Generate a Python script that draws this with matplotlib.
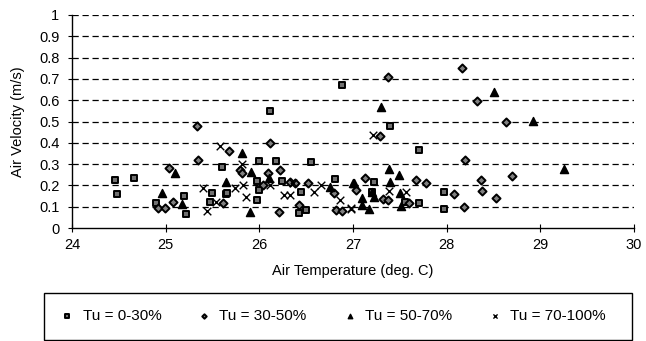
import matplotlib
matplotlib.use("Agg")
import matplotlib.pyplot as plt
from matplotlib.patches import Rectangle

plt.rcParams['font.family'] = ['Liberation Sans', 'DejaVu Sans']

# Tu = 0-30% (squares)
sq_x = [24.46, 24.48, 24.66, 24.90, 25.20, 25.22, 25.47, 25.49, 25.60, 25.64, 25.66,
        26.00, 26.18, 26.11, 25.97, 26.00, 25.97, 26.24, 26.55, 26.45, 26.42, 26.50,
        26.81, 26.88, 27.40, 27.70, 27.22, 27.97, 27.97, 27.70, 27.55, 27.20]
sq_y = [0.226, 0.16, 0.235, 0.118, 0.15, 0.066, 0.12, 0.166, 0.285, 0.16, 0.166,
        0.315, 0.315, 0.55, 0.22, 0.18, 0.13, 0.22, 0.31, 0.17, 0.07, 0.085,
        0.23, 0.67, 0.48, 0.367, 0.217, 0.17, 0.088, 0.117, 0.12, 0.17]

# Tu = 30-50% (diamonds)
di_x = [25.33, 25.35, 25.04, 25.68, 26.11, 26.21, 26.22, 26.52, 26.42, 26.80, 26.82,
        24.92, 24.99, 25.08, 25.79, 25.82, 25.61, 26.04, 26.09, 26.33, 26.38,
        27.37, 28.16, 28.32, 28.63, 28.20, 28.70, 28.37, 28.38, 28.53, 28.18, 28.08,
        27.78, 27.67, 27.29, 27.13, 27.03, 27.32, 27.37, 27.60, 26.88]
di_y = [0.48, 0.32, 0.28, 0.36, 0.40, 0.077, 0.27, 0.21, 0.108, 0.165, 0.085,
        0.094, 0.094, 0.12, 0.27, 0.26, 0.117, 0.20, 0.26, 0.217, 0.21,
        0.71, 0.75, 0.594, 0.50, 0.32, 0.245, 0.226, 0.174, 0.14, 0.097, 0.16,
        0.21, 0.226, 0.43, 0.235, 0.18, 0.137, 0.13, 0.117, 0.08]

# Tu = 50-70% (triangles)
tr_x = [25.10, 24.96, 25.17, 25.81, 25.90, 25.91, 25.64, 26.10, 26.75, 27.00,
        27.30, 28.51, 28.92, 29.25, 27.38, 27.49, 27.39, 27.01, 27.10, 27.20,
        27.50, 27.51, 27.10, 27.17, 27.22]
tr_y = [0.26, 0.166, 0.113, 0.35, 0.077, 0.265, 0.218, 0.237, 0.194, 0.213,
        0.566, 0.637, 0.503, 0.278, 0.276, 0.25, 0.218, 0.213, 0.143, 0.168,
        0.166, 0.105, 0.108, 0.088, 0.147]

# Tu = 70-100% (crosses)
cr_x = [25.58, 25.82, 25.40, 25.44, 25.54, 25.83, 25.74, 25.86, 26.11, 26.26,
        26.33, 26.58, 26.66, 26.98, 26.36, 27.21, 27.38, 27.57, 26.98, 26.86]
cr_y = [0.383, 0.30, 0.187, 0.08, 0.124, 0.20, 0.187, 0.147, 0.20, 0.155,
        0.155, 0.17, 0.20, 0.088, 0.21, 0.437, 0.174, 0.171, 0.093, 0.13]

labels = ["Tu = 0-30%", "Tu = 30-50%", "Tu = 50-70%", "Tu = 70-100%"]
x_ticks = [24, 25, 26, 27, 28, 29, 30]
y_ticks = [0, 0.1, 0.2, 0.3, 0.4, 0.5, 0.6, 0.7, 0.8, 0.9, 1]
y_tick_labels = ["0", "0.1", "0.2", "0.3", "0.4", "0.5", "0.6", "0.7", "0.8", "0.9", "1"]

fs = 10.5
fig = plt.figure(figsize=(6.46, 3.41), dpi=100)
ax = fig.add_axes([72/646, 1-228/341, (634-72)/646, (228-15)/341])

for y in y_ticks[1:]:
    ax.axhline(y, color='black', lw=0.9, ls=(0, (5, 3)), zorder=0)

ax.scatter(sq_x, sq_y, marker='s', s=24, facecolor='#707070', edgecolor='black', linewidths=1.4, label=labels[0], zorder=3)
ax.scatter(di_x, di_y, marker='D', s=17, facecolor='#808080', edgecolor='black', linewidths=1.4, label=labels[1], zorder=3)
ax.scatter(tr_x, tr_y, marker='^', s=34, color='black', label=labels[2], zorder=3)
ax.scatter(cr_x, cr_y, marker='x', s=30, color='black', linewidths=1.0, label=labels[3], zorder=3)

ax.set_xlim(24, 30)
ax.set_ylim(0, 1)
ax.set_xticks(x_ticks)
ax.set_yticks(y_ticks)
ax.set_yticklabels(y_tick_labels)
ax.spines['top'].set_visible(False)
ax.spines['right'].set_visible(False)
ax.spines['left'].set_linewidth(1.0)
ax.spines['bottom'].set_linewidth(1.0)
ax.tick_params(axis='x', direction='inout', length=6, labelsize=fs, pad=4)
ax.tick_params(axis='y', direction='out', length=3, labelsize=fs, pad=6)
ax.set_xlabel("Air Temperature (deg. C)", fontsize=fs, labelpad=9)
ax.set_ylabel("Air Velocity (m/s)", fontsize=fs, labelpad=10)

fig.patches.append(Rectangle((44/646, 0.003), (632-44)/646, 1-293/341-0.003, transform=fig.transFigure,
                             fill=False, edgecolor='black', lw=1.0))
leg = fig.legend(loc='center left', bbox_to_anchor=(46/646, 1-316/341), ncol=4, frameon=False,
                 fontsize=11, handletextpad=0.5, columnspacing=2.3, markerscale=0.55, handlelength=1.0)

fig.savefig("out.png", dpi=100)
